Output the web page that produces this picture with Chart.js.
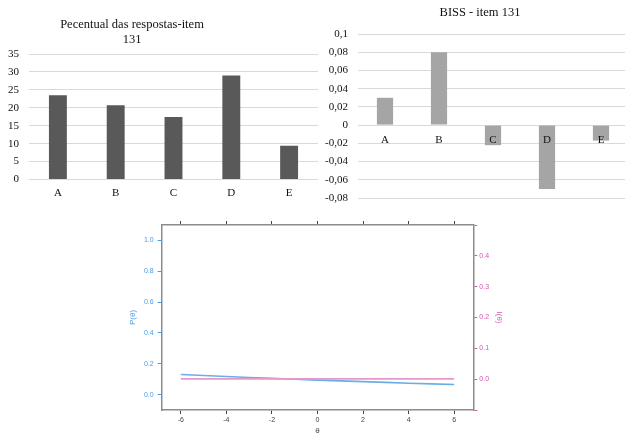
<!DOCTYPE html>
<html>
<head>
<meta charset="utf-8">
<script src="https://cdn.jsdelivr.net/npm/chart.js@4.4.1/dist/chart.umd.min.js"></script>
<style>
  html, body { margin: 0; padding: 0; background: #fff; width: 625px; height: 437px; overflow: hidden; position: relative; }
  canvas { position: absolute; }
  #pctChart { left: 0; top: 0; }
  #bissChart { left: 310px; top: 0; }
  #curveChart { left: 125px; top: 215px; }
</style>
</head>
<body>
<canvas id="pctChart" width="322" height="207"></canvas>
<canvas id="bissChart" width="318" height="207"></canvas>
<canvas id="curveChart" width="385" height="222"></canvas>
<script>
// Item 131: answer options
const answerCategories = ['A', 'B', 'C', 'D', 'E'];
// Percentage of answers per option
const answerPercent = [23.5, 20.7, 17.4, 29.0, 9.4];
const percentTicks = [0, 5, 10, 15, 20, 25, 30, 35];
// Biserial coefficient per option
const bissValues = [0.030, 0.080, -0.022, -0.070, -0.017];
const bissTicks = [-0.08, -0.06, -0.04, -0.02, 0, 0.02, 0.04, 0.06, 0.08, 0.1];
// Item characteristic / information curves
const thetaValues = [-6, -4, -2, 0, 2, 4, 6];
const probValues = [0.130, 0.117, 0.105, 0.094, 0.084, 0.074, 0.065];
const infoValues = [0.001, 0.001, 0.001, 0.001, 0.001, 0.001, 0.001];
const thetaTicks = [-6, -4, -2, 0, 2, 4, 6];
const probTicks = [0, 0.2, 0.4, 0.6, 0.8, 1.0];
const infoTicks = [-0.1, 0, 0.1, 0.2, 0.3, 0.4, 0.5];
const infoLabelled = [0, 0.1, 0.2, 0.3, 0.4];

const pctTitle = ['Pecentual das respostas-item', '131'];
const bissTitle = ['BISS - item 131'];

// Draws a centred (multi-line) caption at a fixed spot of the canvas
const captionPlugin = {
  id: 'caption',
  afterDraw(chart, args, opts) {
    if (!opts || !opts.lines) return;
    const ctx = chart.ctx;
    ctx.save();
    ctx.font = opts.font;
    ctx.fillStyle = opts.color || '#000';
    ctx.textAlign = 'center';
    ctx.textBaseline = 'middle';
    opts.lines.forEach((t, i) => ctx.fillText(t, opts.x, opts.y + i * opts.lineHeight));
    ctx.restore();
  }
};
Chart.register(captionPlugin);

const serif = 'Liberation Serif, Times New Roman, serif';
const sans = 'Liberation Sans, Arial, sans-serif';
const commaFmt = v => String(Math.round(v * 100) / 100).replace('.', ',');
const fixTicks = list => scale => { scale.ticks = list.map(v => ({ value: v })); };

// Percentage of answers
new Chart(document.getElementById('pctChart'), {
  type: 'bar',
  data: {
    labels: answerCategories,
    datasets: [{ data: answerPercent, backgroundColor: '#595959', barPercentage: 0.31, categoryPercentage: 1 }]
  },
  options: {
    responsive: false,
    animation: false,
    layout: { padding: { top: 54, right: 4, left: 0, bottom: 0 } },
    plugins: {
      legend: { display: false },
      tooltip: { enabled: false },
      caption: { lines: pctTitle, x: 132, y: 25, lineHeight: 15, font: '12.5px ' + serif, color: '#111' }
    },
    scales: {
      x: {
        grid: { display: false, drawTicks: false },
        border: { display: false },
        ticks: { color: '#111', font: { family: serif, size: 11 }, padding: 7 },
        afterFit: s => { s.height = 27.5; }
      },
      y: {
        min: 0, max: 35,
        afterBuildTicks: fixTicks(percentTicks),
        grid: { color: '#d9d9d9', drawTicks: false },
        border: { display: false },
        ticks: { color: '#111', font: { family: serif, size: 11 }, padding: 10 },
        afterFit: s => { s.width = 29; }
      }
    }
  }
});

// Biserial per option; category labels sit on the zero line, above the bars
new Chart(document.getElementById('bissChart'), {
  type: 'bar',
  data: {
    labels: answerCategories,
    datasets: [{ data: bissValues, backgroundColor: '#a5a5a5', barPercentage: 0.3, categoryPercentage: 1 }]
  },
  options: {
    responsive: false,
    animation: false,
    layout: { padding: { top: 34, right: 0, left: 0, bottom: 9 } },
    plugins: {
      legend: { display: false },
      tooltip: { enabled: false },
      caption: { lines: bissTitle, x: 170, y: 13, lineHeight: 15, font: '12.5px ' + serif, color: '#111' }
    },
    scales: {
      x: {
        position: { y: 0 },
        grid: { display: false, drawTicks: false },
        border: { display: false },
        ticks: { z: 1, color: '#111', font: { family: serif, size: 11 }, padding: 8 },
        afterFit: s => { s.height = 0; }
      },
      y: {
        min: -0.08, max: 0.1,
        afterBuildTicks: fixTicks(bissTicks),
        grid: { color: '#d9d9d9', drawTicks: false },
        border: { display: false },
        ticks: { color: '#111', font: { family: serif, size: 11 }, padding: 10, callback: v => commaFmt(v) },
        afterFit: s => { s.width = 48; s.paddingTop = 0; s.paddingBottom = 0; }
      }
    }
  }
});

// P(θ) and I(θ) curves
const blue = '#6aaee8';
const blueText = '#4a9be6';
const pink = '#e39acb';
const pinkText = '#d655b0';
const frame = '#8c8c8c';

new Chart(document.getElementById('curveChart'), {
  type: 'line',
  data: {
    datasets: [
      {
        label: 'I(θ)', yAxisID: 'y2', xAxisID: 'x',
        data: thetaValues.map((t, i) => ({ x: t, y: infoValues[i] })),
        borderColor: pink, borderWidth: 1.6, pointRadius: 0, tension: 0
      },
      {
        label: 'P(θ)', yAxisID: 'y', xAxisID: 'x',
        data: thetaValues.map((t, i) => ({ x: t, y: probValues[i] })),
        borderColor: blue, borderWidth: 1.6, pointRadius: 0, tension: 0.3
      }
    ]
  },
  options: {
    responsive: false,
    animation: false,
    layout: { padding: 0 },
    plugins: { legend: { display: false }, tooltip: { enabled: false } },
    scales: {
      x: {
        type: 'linear', position: 'bottom', min: -6.84, max: 6.84,
        afterBuildTicks: fixTicks(thetaTicks),
        grid: { drawOnChartArea: false, drawTicks: true, tickLength: 4, color: '#444' },
        border: { color: frame, width: 1.5 },
        ticks: { color: '#444', font: { family: sans, size: 7 }, padding: 2, callback: v => String(v) },
        title: { display: true, text: 'θ', color: '#444', font: { family: sans, size: 8 }, padding: { top: 0, bottom: 1.5 } },
        afterFit: s => { s.height = 27; }
      },
      x2: {
        type: 'linear', position: 'top', min: -6.84, max: 6.84,
        afterBuildTicks: fixTicks(thetaTicks),
        grid: { drawOnChartArea: false, drawTicks: true, tickLength: 4, color: '#444' },
        border: { color: frame, width: 1.5 },
        ticks: { display: false },
        afterFit: s => { s.height = 10; }
      },
      y: {
        type: 'linear', position: 'left', min: -0.1, max: 1.1,
        afterBuildTicks: fixTicks(probTicks),
        grid: { drawOnChartArea: false, drawTicks: true, tickLength: 4, color: blueText },
        border: { color: frame, width: 1.5 },
        ticks: { color: blueText, font: { family: sans, size: 7 }, padding: 4, callback: v => v.toFixed(1) },
        title: { display: true, text: 'P(θ)', color: blueText, font: { family: sans, size: 8 }, padding: { top: 3.2, bottom: 0 } },
        afterFit: s => { s.width = 36.7; }
      },
      y2: {
        type: 'linear', position: 'right', min: -0.1, max: 0.5,
        afterBuildTicks: fixTicks(infoTicks),
        grid: { drawOnChartArea: false, drawTicks: true, tickLength: 4, color: pinkText },
        border: { color: frame, width: 1.5 },
        ticks: { color: pinkText, font: { family: sans, size: 7 }, padding: 2,
                 callback: v => infoLabelled.some(u => Math.abs(u - v) < 1e-9) ? v.toFixed(1) : '' },
        title: { display: true, text: 'I(θ)', color: pinkText, font: { family: sans, size: 8 }, padding: { top: 6.2, bottom: 0 } },
        afterFit: s => { s.width = 36.7; }
      }
    }
  }
});
</script>
</body>
</html>
